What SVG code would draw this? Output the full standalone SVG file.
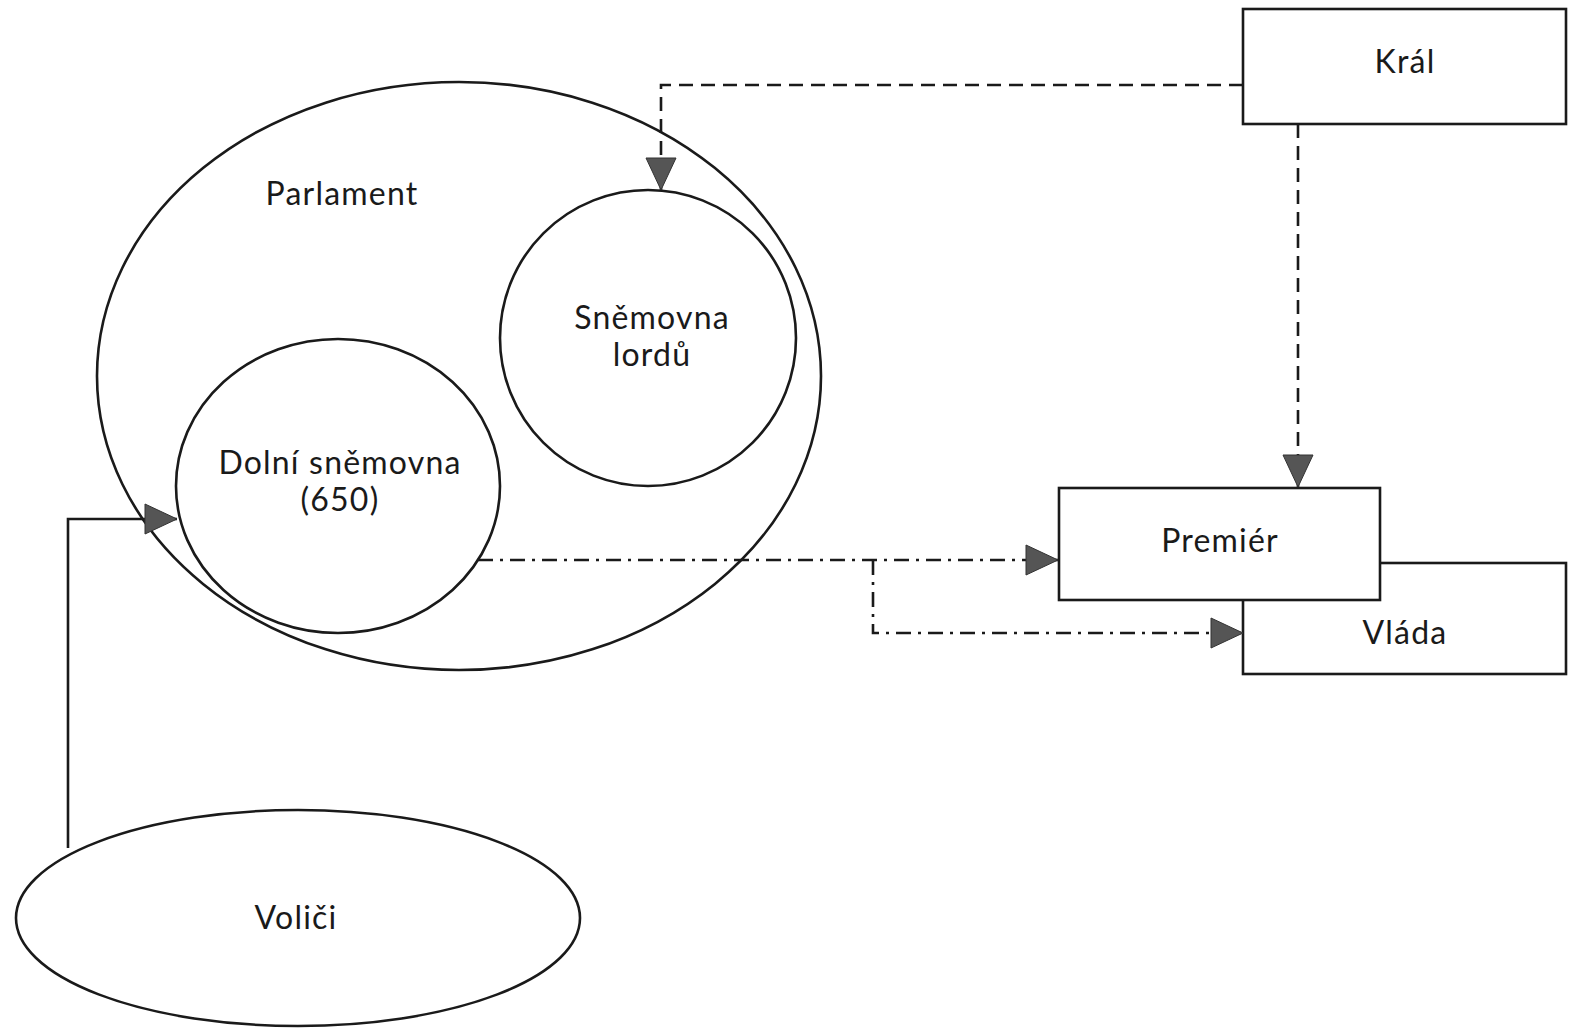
<svg xmlns="http://www.w3.org/2000/svg" width="1570" height="1032" viewBox="0 0 1570 1032">
<style>
  .shape { fill: #fff; stroke: #1a1a1a; stroke-width: 2.6; }
  .open { fill: none; stroke: #1a1a1a; stroke-width: 2.6; }
  .lbl { font-family: Lato, "Open Sans", "DejaVu Sans", sans-serif; font-size: 32px; letter-spacing: 1.2px; fill: #1a1a1a; text-anchor: middle; }
  .conn { fill: none; stroke: #1a1a1a; stroke-width: 2.6; }
  .dash { stroke-dasharray: 14 8; }
  .dashdot { stroke-dasharray: 15 7 3 7; }
</style>
<defs>
  <marker id="arr" markerUnits="userSpaceOnUse" markerWidth="34" markerHeight="34" viewBox="0 0 34 34" refX="33" refY="17" orient="auto">
    <path d="M1,2 L33,17 L1,32 Z" fill="#555" stroke="#333" stroke-width="1"/>
  </marker>
</defs>
<rect width="1570" height="1032" fill="#fff"/>
<g id="parlament">
  <ellipse class="open" cx="459" cy="376" rx="362" ry="294"/>
  <text class="lbl" x="342" y="205">Parlament</text>
</g>
<g id="lordi">
  <ellipse class="open" cx="648" cy="338" rx="148" ry="148"/>
  <text class="lbl" x="652" y="329">Sněmovna</text>
  <text class="lbl" x="652" y="366">lordů</text>
</g>
<g id="dolni">
  <ellipse class="open" cx="338" cy="486" rx="162" ry="147"/>
  <text class="lbl" x="340" y="474">Dolní sněmovna</text>
  <text class="lbl" x="340" y="511">(650)</text>
</g>
<g id="volici">
  <ellipse class="shape" cx="298" cy="918" rx="282" ry="108"/>
  <text class="lbl" x="296" y="929">Voliči</text>
</g>
<g id="kral">
  <rect class="shape" x="1243" y="9" width="323" height="115"/>
  <text class="lbl" x="1405" y="73">Král</text>
</g>
<g id="vlada">
  <rect class="shape" x="1243" y="563" width="323" height="111"/>
  <text class="lbl" x="1405" y="644">Vláda</text>
</g>
<g id="premier">
  <rect class="shape" x="1059" y="488" width="321" height="112"/>
  <text class="lbl" x="1220" y="552">Premiér</text>
</g>
<g id="connectors">
  <path class="conn dash" d="M1243,85 L661,85 L661,190" marker-end="url(#arr)"/>
  <path class="conn dash" d="M1298,124 L1298,487" marker-end="url(#arr)"/>
  <path class="conn dashdot" d="M478,560 L1058,560" marker-end="url(#arr)"/>
  <path class="conn dashdot" d="M873,560 L873,633 L1243,633" marker-end="url(#arr)"/>
  <path class="conn" d="M68,848 L68,519 L177,519" marker-end="url(#arr)"/>
</g>
</svg>
